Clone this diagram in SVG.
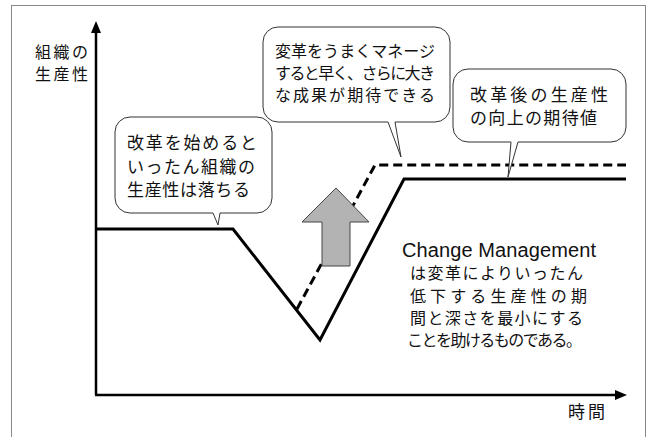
<svg xmlns="http://www.w3.org/2000/svg" width="653" height="437" viewBox="0 0 653 437">
<style>
.jp{font-family:"Noto Sans CJK JP","Noto Sans",sans-serif;fill:#111;}
.en{font-family:"Liberation Sans",Arial,sans-serif;fill:#111;}
.bubble{fill:#fff;stroke:#333;stroke-width:1;}
.line{fill:none;stroke:#000;stroke-width:3;stroke-linejoin:miter;}
.dash{fill:none;stroke:#000;stroke-width:3;stroke-dasharray:9 5;}
.axis{stroke:#000;stroke-width:2.5;fill:none;}
</style>
<rect x="11.5" y="5.5" width="634" height="445" fill="#fff" stroke="#888" stroke-width="1"/>
<g id="connectors">
  <path class="dash" d="M297,309 L375,165 H626"/>
  <path class="line" d="M96,229 H233 L320,340 L404,179 H626"/>
</g>
<g id="axes">
  <line class="axis" x1="96" y1="395" x2="96" y2="30"/>
  <polygon points="96,21 91,33 101,33" fill="#000"/>
  <line class="axis" x1="95" y1="395" x2="618" y2="395"/>
  <polygon points="627,395 615,390 615,400" fill="#000"/>
</g>
<g id="arrow">
  <polygon points="336,188 369,222 350,222 350,266 322,266 322,222 302,222" fill="#b3b3b3" stroke="#444" stroke-width="1"/>
</g>
<g id="ylabel">
  <text class="jp" x="35" y="58" font-size="16" textLength="53">組織の</text>
  <text class="jp" x="35" y="80" font-size="16" textLength="53">生産性</text>
</g>
<g id="xlabel">
  <text class="jp" x="568" y="418" font-size="17" textLength="37">時間</text>
</g>
<g id="bubble1">
  <path class="bubble" d="M130,117 H257 A15,15 0 0 1 272,132 V198 A15,15 0 0 1 257,213 H220 L218,225 L213,213 H130 A15,15 0 0 1 115,198 V132 A15,15 0 0 1 130,117 Z"/>
  <text class="jp" x="127" y="149" font-size="17" textLength="130">改革を始めると</text>
  <text class="jp" x="127" y="173" font-size="17" textLength="128">いったん組織の</text>
  <text class="jp" x="127" y="196" font-size="17" textLength="123">生産性は落ちる</text>
</g>
<g id="bubble2">
  <path class="bubble" d="M278,27 H435 A15,15 0 0 1 450,42 V107 A15,15 0 0 1 435,122 H395 L401,157 L388,122 H278 A15,15 0 0 1 263,107 V42 A15,15 0 0 1 278,27 Z"/>
  <text class="jp" x="275" y="57" font-size="16" textLength="160">変革をうまくマネージ</text>
  <text class="jp" x="275" y="79" font-size="16" textLength="160">すると早く、さらに大き</text>
  <text class="jp" x="275" y="101" font-size="16" textLength="160">な成果が期待できる</text>
</g>
<g id="bubble3">
  <path class="bubble" d="M468,69 H611 A15,15 0 0 1 626,84 V127 A15,15 0 0 1 611,142 H518 L508,177 L511,142 H468 A15,15 0 0 1 453,127 V84 A15,15 0 0 1 468,69 Z"/>
  <text class="jp" x="470" y="101" font-size="17" textLength="138">改革後の生産性</text>
  <text class="jp" x="470" y="124" font-size="17" textLength="127">の向上の期待値</text>
</g>
<g id="note">
  <text class="en" x="402" y="257" font-size="20" textLength="194">Change Management</text>
  <text class="jp" x="410" y="279" font-size="16" textLength="173">は変革によりいったん</text>
  <text class="jp" x="410" y="302" font-size="16" textLength="177">低下する生産性の期</text>
  <text class="jp" x="410" y="324" font-size="16" textLength="173">間と深さを最小にする</text>
  <text class="jp" x="407" y="346" font-size="16" textLength="175">ことを助けるものである。</text>
</g>
</svg>
